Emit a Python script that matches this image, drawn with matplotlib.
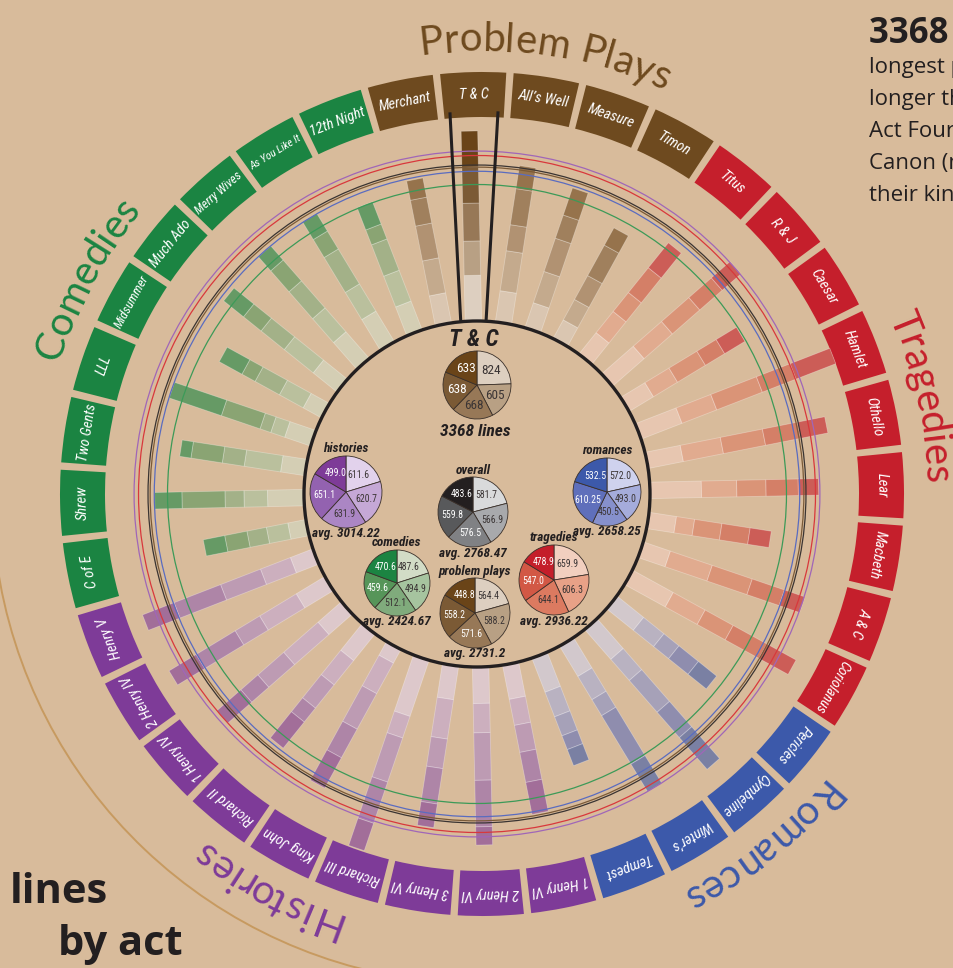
import numpy as np
import matplotlib
matplotlib.use("Agg")
import matplotlib.pyplot as plt
from matplotlib import font_manager
from matplotlib.font_manager import FontProperties, findfont, get_font
from matplotlib.patches import Rectangle, Wedge, Circle, Arc
from matplotlib.transforms import Affine2D
from matplotlib.colors import to_rgba

# ---------------- data: lines per act (I..V) ----------------
comedy_names = ["C of E", "Shrew", "Two Gents", "LLL", "Midsummer", "Much Ado",
                "Merry Wives", "As You Like It", "12th Night"]
comedy_acts = [
    [340, 385, 350, 400, 385],
    [660, 415, 335, 760, 481],
    [450, 650, 390, 560, 200],
    [500, 260, 200, 720, 971],
    [385, 478, 490, 265, 457],
    [556, 655, 525, 398, 449],
    [642, 560, 632, 490, 330],
    [650, 560, 720, 370, 361],
    [560, 582, 593, 282, 420],
]
problem_names = ["Merchant", "T & C", "All\u2019s Well", "Measure", "Timon"]
problem_acts = [
    [556, 628, 626, 465, 345],
    [824, 605, 668, 638, 633],
    [572, 714, 464, 644, 411],
    [480, 583, 619, 432, 506],
    [390, 411, 481, 612, 349],
]
tragedy_names = ["Titus", "R & J", "Caesar", "Hamlet", "Othello", "Lear",
                 "Macbeth", "A & C", "Coriolanus"]
tragedy_acts = [
    [500, 480, 430, 560, 565],
    [756, 663, 641, 527, 436],
    [516, 497, 575, 397, 418],
    [788, 657, 863, 638, 751],
    [648, 721, 757, 632, 488],
    [925, 623, 516, 570, 358],
    [504, 324, 487, 504, 378],
    [520, 780, 745, 600, 380],
    [836, 642, 564, 682, 584],
]
romance_names = ["Pericles", "Cymbeline", "Winter\u2019s", "Tempest"]
romance_acts = [
    [620, 460, 340, 440, 412],
    [715, 495, 745, 595, 744],
    [640, 480, 330, 998, 569],
    [660, 465, 360, 260, 305],
]
history_names = ["1 Henry VI", "2 Henry VI", "3 Henry VI", "Richard III", "King John",
                 "Richard II", "1 Henry IV", "2 Henry IV", "Henry V"]
history_acts = [
    [630, 468, 486, 540, 575],
    [660, 517, 838, 820, 322],
    [615, 703, 527, 632, 422],
    [1060, 402, 822, 768, 511],
    [290, 615, 715, 575, 610],
    [620, 550, 525, 315, 592],
    [565, 805, 605, 400, 562],
    [605, 755, 505, 805, 558],
    [440, 566, 755, 880, 597],
]

# per-act averages printed in the centre pies
avg_comedies = [487.6, 494.9, 512.1, 459.6, 470.6]
avg_histories = [611.6, 620.7, 631.9, 651.1, 499.0]
avg_tragedies = [659.9, 606.3, 644.1, 547.0, 478.9]
avg_romances = [572.0, 493.0, 450.5, 610.25, 532.5]
avg_problem = [564.4, 588.2, 571.6, 558.2, 448.8]
avg_overall = [581.7, 566.9, 576.5, 559.8, 483.6]

# average play length per group (rings + "avg." captions)
play_avg = {"histories": 3014.22, "tragedies": 2936.22, "overall": 2768.47,
            "problem plays": 2731.2, "romances": 2658.25, "comedies": 2424.67}

HIGHLIGHT = "T & C"
highlight_total = 3368

# ---------------- look ----------------
W, H = 954, 968
BG = "#d8bb9b"
INK = "#231f20"
CX, CY = 477, 494          # centre of bars / inner circle
LCX = 482                  # centre of the label ring
R0, K = 172, 0.0567        # bar start radius, px per line
BW = 16.5
ANG0 = -1.2
RING_IN, RING_OUT = 377, 422

RAMP = {
    "comedies": ["#d2dcc6", "#a6c49f", "#80ab7c", "#569559", "#1b8442"],
    "problem plays": ["#ddcfc0", "#b8a084", "#977857", "#7b5a35", "#6a4418"],
    "tragedies": ["#f2cfbf", "#e8a187", "#dc7a60", "#d25845", "#c41e2a"],
    "romances": ["#cfd2ee", "#a5acdb", "#8690cc", "#5f6fbb", "#3c59aa"],
    "histories": ["#e2d2ec", "#c5a8d6", "#ab86c4", "#9362b0", "#7e3b98"],
    "overall": ["#d9dadb", "#a8a9ac", "#808184", "#58595b", "#231f20"],
}
BOX = {"comedies": "#1b8442", "problem plays": "#6e4a1f", "tragedies": "#c51f2c",
       "romances": "#3c59aa", "histories": "#7e3b98"}
RING = {"histories": "#a066b8", "tragedies": "#d8383c", "overall": "#3a3432",
        "problem plays": "#7a5a38", "romances": "#5a6cc0", "comedies": "#3c9a58"}

names = {f.name for f in font_manager.fontManager.ttflist}
COND = next((n for n in ["Liberation Sans Narrow", "Roboto Condensed", "Noto Sans Condensed",
                         "Open Sans Condensed", "DejaVu Sans Condensed"] if n in names), "Lato")
SANS = "Open Sans" if "Open Sans" in names else "DejaVu Sans"
ARC_FONT = "Lato" if "Lato" in names else SANS


def adv_px(s, fp):
    f = get_font(findfont(fp))
    f.set_size(fp.get_size_in_points(), 72)
    return [f.load_char(ord(c)).linearHoriAdvance / 65536 * 100 / 72 for c in s]


groups = [("comedies", comedy_names, comedy_acts),
          ("problem plays", problem_names, problem_acts),
          ("tragedies", tragedy_names, tragedy_acts),
          ("romances", romance_names, romance_acts),
          ("histories", history_names, history_acts)]

fig = plt.figure(figsize=(W / 100, H / 100), dpi=100, facecolor=BG)
ax = fig.add_axes([0, 0, 1, 1])
ax.set_xlim(0, W)
ax.set_ylim(H, 0)
ax.axis("off")
ax.set_facecolor(BG)

# big faint arc lower left
ax.add_patch(Arc((LCX, CY), 980, 980, theta1=95, theta2=172, color="#c79a60", lw=1.4, zorder=1))

i = 0
for cat, pnames, pacts in groups:
    for name, acts in zip(pnames, pacts):
        th = 260 + 10 * i + ANG0
        i += 1
        hl = name == HIGHLIGHT
        # label box
        ax.add_patch(Wedge((LCX, CY), RING_OUT, th - 90 - 4.5, th - 90 + 4.5,
                           width=RING_OUT - RING_IN, fc=BOX[cat], ec="none", zorder=2))
        a = np.radians(th - 90)
        rm = (RING_IN + RING_OUT) / 2
        fp = FontProperties(family=COND, style="italic", size=10.5)
        wpx = sum(adv_px(name, fp))
        fs = min(10.5, 10.5 * 58 / wpx)
        ax.text(LCX + rm * np.cos(a), CY + rm * np.sin(a), name, rotation=-th,
                rotation_mode="anchor", ha="center", va="center", color="white",
                fontproperties=FontProperties(family=COND, style="italic", size=fs), zorder=5)
        # stacked act bar
        tr = Affine2D().rotate_deg(th - 90).translate(CX, CY) + ax.transData
        r = R0
        for j, v in enumerate(acts):
            L = v * K
            fc = to_rgba(RAMP[cat][j], 1.0 if hl else 0.6)
            ax.add_patch(Rectangle((r, -BW / 2), L, BW, transform=tr, fc=fc,
                                   ec=(1, 1, 1, 0.3), lw=0.6, zorder=3 if hl else 2))
            r += L

# average rings
for key, v in play_avg.items():
    ax.add_patch(Circle((CX, CY), R0 + v * K, fill=False, ec=RING[key], lw=0.9, zorder=4))

# highlight lines to the T & C label
for s_in, s_out in [(-4.2, -3.6), (4.2, 3.6)]:
    a1 = np.radians(ANG0 + s_in - 90)
    a2 = np.radians(ANG0 + s_out - 90)
    ax.plot([CX + R0 * np.cos(a1), LCX + 383 * np.cos(a2)],
            [CY + R0 * np.sin(a1), CY + 383 * np.sin(a2)], color=INK, lw=2.2, zorder=6,
            solid_capstyle="butt")

ax.add_patch(Circle((CX, CY), R0 + 1, fc=BG, ec=INK, lw=2.4, zorder=6))

# curved group titles
arc_titles = [("Comedies", 298.5, "comedies"), ("Problem Plays", 8.2, "problem plays"),
              ("Tragedies", 77.6, "tragedies"), ("Romances", 141.6, "romances"),
              ("Histories", 208.5, "histories")]
RB = 443
for text, thc, cat in arc_titles:
    fp = FontProperties(family=ARC_FONT, size=29)
    adv = adv_px(text, fp)
    tot = sum(adv)
    pos = 0
    for ch, w in zip(text, adv):
        off = pos + w / 2 - tot / 2
        pos += w
        if ch == " ":
            continue
        t = thc + np.degrees(off / RB)
        a = np.radians(t - 90)
        ax.text(LCX + RB * np.cos(a), CY + RB * np.sin(a), ch, rotation=-t,
                rotation_mode="anchor", ha="center", va="baseline", color=BOX[cat],
                fontproperties=fp, zorder=5)


def fmt_avg(v):
    s = f"{v:.2f}"
    return s[:-1] if s.endswith("0") else s


def pie_at(cx, cy, r, vals, cols, n_white, fs, fmt):
    pad = 1.04
    pa = fig.add_axes([(cx - r * pad) / W, 1 - (cy + r * pad) / H, 2 * r * pad / W, 2 * r * pad / H])
    wedges, _ = pa.pie(vals, colors=cols, startangle=90, counterclock=False, radius=1,
                       wedgeprops=dict(edgecolor="#3a302a", linewidth=0.6))
    pa.set_xlim(-pad, pad)
    pa.set_ylim(-pad, pad)
    pa.axis("off")
    for k, (w, v) in enumerate(zip(wedges, vals)):
        m = np.radians((w.theta1 + w.theta2) / 2)
        col = "white" if k >= 5 - n_white else "#3b3535"
        pa.text(0.6 * np.cos(m), 0.6 * np.sin(m), fmt(v), ha="center", va="center",
                fontsize=fs, color=col, family=COND)


# highlighted play pie
tc_acts = problem_acts[problem_names.index(HIGHLIGHT)]
pie_at(477, 385, 34, tc_acts, RAMP["problem plays"], 2, 9.5, lambda v: f"{v:d}")
ax.text(474, 340, HIGHLIGHT, ha="center", va="center", color=INK, zorder=7,
        fontproperties=FontProperties(family=COND, style="italic", weight="bold", size=17))
ax.text(475, 431, f"{highlight_total} lines", ha="center", va="center", color=INK, zorder=7,
        fontproperties=FontProperties(family=COND, style="italic", weight="bold", size=12.5))

pies = [("histories", 346, 492, 36, avg_histories, 2),
        ("overall", 473, 512, 35, avg_overall, 3),
        ("romances", 607, 492, 34, avg_romances, 2),
        ("comedies", 397, 583, 33, avg_comedies, 2),
        ("problem plays", 475, 613, 35, avg_problem, 3),
        ("tragedies", 554, 580, 35, avg_tragedies, 2)]
for key, px, py, pr, vals, nw in pies:
    pie_at(px, py, pr, vals, RAMP[key], nw, 7, fmt_avg)
    ax.text(px, py - pr - 7, key, ha="center", va="center", color=INK, zorder=7,
            fontproperties=FontProperties(family=COND, style="italic", weight="bold", size=9.5))
    ax.text(px, py + pr + 6, "avg. " + fmt_avg(play_avg[key]), ha="center", va="center",
            color=INK, zorder=7,
            fontproperties=FontProperties(family=COND, style="italic", weight="bold", size=9.5))

# side notes
ax.text(869, 43, "3368 lines", fontsize=25, fontweight="bold", family=SANS, color=INK)
note = ["longest problem play,", "longer than any other", "Act Four in the",
        "Canon (most plays of", "their kind)."]
for n, line in enumerate(note):
    ax.text(869, 73 + 32 * n, line, fontsize=16, family=SANS, color=INK)
ax.text(10, 903, "lines", fontsize=30, fontweight="bold", family=SANS, color=INK)
ax.text(58, 955, "by act", fontsize=30, fontweight="bold", family=SANS, color=INK)

fig.savefig("out.png", dpi=100, facecolor=BG)
